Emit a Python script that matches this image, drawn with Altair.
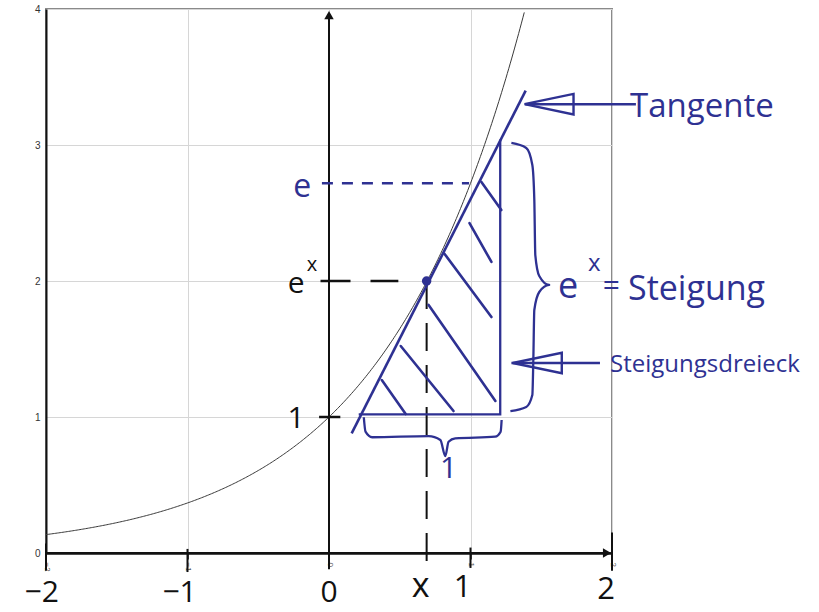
import altair as alt
import pandas as pd

BLUE = "#2e3192"
INK = "#111111"
FONT = "Open Sans"

# ---- axes -------------------------------------------------------------
x_domain = [-2, 2]
y_domain = [0, 4]
x_ticks = [-2, -1, 0, 1, 2]
y_ticks = [0, 1, 2, 3, 4]

# ---- exponential curve y = e^x ---------------------------------------
curve_start = -2.0
curve_stop = 1.39
curve_step = 0.01

# ---- point of contact (x, e^x) ---------------------------------------
point_x = [0.69]
point_y = [2.0]

# ---- tangent through the point ---------------------------------------
tangent_x = [0.16, 1.39]
tangent_y = [0.88, 3.40]

# ---- slope triangle (base, right side) -------------------------------
tri_x = [0.21, 1.21, 1.21]
tri_y = [1.02, 1.02, 3.04]

# hatching strokes inside the triangle
hatch_x1 = [0.373, 0.507, 0.704, 0.817, 0.993, 1.077]
hatch_y1 = [1.272, 1.522, 1.824, 2.199, 2.426, 2.728]
hatch_x2 = [0.542, 0.880, 1.176, 1.148, 1.148, 1.218]
hatch_y2 = [1.022, 1.044, 1.118, 1.735, 2.140, 2.522]

# ---- curly braces -----------------------------------------------------
brace_bottom_x = [0.246, 0.258, 0.305, 0.704, 0.787, 0.822, 0.845, 0.892, 1.174, 1.213, 1.220]
brace_bottom_y = [0.998, 0.892, 0.851, 0.860, 0.831, 0.713, 0.818, 0.843, 0.855, 0.892, 0.978]
brace_right_x = [1.289, 1.394, 1.437, 1.451, 1.458, 1.486, 1.556, 1.486, 1.451, 1.444, 1.437, 1.394, 1.282]
brace_right_y = [3.015, 2.978, 2.853, 2.596, 2.191, 2.037, 1.971, 1.919, 1.787, 1.419, 1.162, 1.074, 1.044]

# ---- guide lines ------------------------------------------------------
e_level = [2.718]
e_guide_x = [-0.05, 0.99]
ex_guide_x = [-0.06, 0.49]
ex_drop_y = [2.0, -0.14]

# hand-drawn ticks on the axes
xtick_pos = [-2.0, -1.0, 1.0, 2.0]
xtick_top = [0.07, 0.03, 0.04, 0.15]
xtick_bot = [-0.13, -0.14, -0.11, -0.13]
ytick_x1 = [-0.07]
ytick_x2 = [0.08]
ytick_y = [1.0]

# ---- arrows pointing at the tangent and the triangle ------------------
arrow_x1 = [1.387, 1.289]
arrow_x2 = [2.169, 1.915]
arrow_y = [3.30, 1.397]
arrow_head_x = [1.555, 1.472]

# ---- labels -----------------------------------------------------------
big_labels = ["\u22122", "\u22121", "0", "x", "1", "2", "1", "e"]
big_x = [-2.03, -1.056, 0.0, 0.648, 0.944, 1.958, -0.232, -0.232]
big_y = [-0.36, -0.36, -0.36, -0.325, -0.325, -0.34, 0.919, 1.912]
big_size = [30, 30, 30, 34, 31, 31, 30, 30]

sup_labels = ["x"]
sup_x = [-0.12]
sup_y = [2.07]

blue_labels = ["e", "1", "Tangente", "e", "=", "Steigung", "Steigungsdreieck"]
blue_x = [-0.19, 0.845, 2.127, 1.690, 1.995, 2.113, 1.986]
blue_y = [2.618, 0.55, 3.206, 1.875, 1.90, 1.86, 1.331]
blue_size = [32, 30, 33, 36, 30, 34, 24]
blue_align = ["center", "center", "left", "center", "center", "left", "left"]

blue_sup = ["x"]
blue_sup_x = [1.875]
blue_sup_y = [2.075]

xs = alt.Scale(domain=x_domain, nice=False, zero=False)
ys = alt.Scale(domain=y_domain, nice=False, zero=False)


def X(field, **kw):
    return alt.X(field, type="quantitative", scale=xs, title=None, **kw)


def Y(field, **kw):
    return alt.Y(field, type="quantitative", scale=ys, title=None, **kw)


# curve carries the frame axes and the grid
curve = (
    alt.Chart(alt.sequence(curve_start, curve_stop, curve_step, as_="x"))
    .transform_calculate(y="exp(datum.x)")
    .mark_line(color="#3a3a3a", strokeWidth=1)
    .encode(
        x=alt.X(
            "x:Q",
            scale=xs,
            axis=alt.Axis(
                values=x_ticks, format="d", title=None, grid=True, gridColor="#d6d6d6",
                domainColor=INK, domainWidth=2.5, tickColor="#444", tickSize=6,
                labelAngle=90, labelFontSize=8, labelColor="#555", labelPadding=3,
            ),
        ),
        y=alt.Y(
            "y:Q",
            scale=ys,
            axis=alt.Axis(
                values=y_ticks, format="d", title=None, grid=True, gridColor="#d6d6d6",
                domainColor=INK, domainWidth=2, ticks=False,
                labelFontSize=10, labelColor="#333", labelPadding=6,
            ),
        ),
    )
)

# central coordinate axes with arrow tips
axis_df = pd.DataFrame({"x1": [0.0, -2.0], "x2": [0.0, 1.97], "y1": [-0.12, 0.0], "y2": [3.96, 0.0]})
axes = alt.Chart(axis_df).mark_rule(color=INK, strokeWidth=2).encode(
    x=X("x1"), x2="x2", y=Y("y1"), y2="y2"
)
tips_df = pd.DataFrame({"x": [0.0, 1.965], "y": [3.955, 0.0], "s": ["triangle-up", "triangle-right"]})
tips = alt.Chart(tips_df).mark_point(filled=True, color=INK, size=90, opacity=1).encode(
    x=X("x"), y=Y("y"), shape=alt.Shape("s:N", scale=None)
)

# hand ticks
xt_df = pd.DataFrame({"x": xtick_pos, "y1": xtick_top, "y2": xtick_bot})
xt = alt.Chart(xt_df).mark_rule(color=INK, strokeWidth=2).encode(x=X("x"), y=Y("y1"), y2="y2")
yt_df = pd.DataFrame({"x1": ytick_x1, "x2": ytick_x2, "y": ytick_y})
yt = alt.Chart(yt_df).mark_rule(color=INK, strokeWidth=2.5).encode(x=X("x1"), x2="x2", y=Y("y"))

# dashed guides
ex_h = alt.Chart(pd.DataFrame({"x1": [ex_guide_x[0]], "x2": [ex_guide_x[1]], "y": point_y})).mark_rule(
    color=INK, strokeWidth=2.5, strokeDash=[30, 20]
).encode(x=X("x1"), x2="x2", y=Y("y"))
ex_v = alt.Chart(pd.DataFrame({"x": point_x, "y1": [ex_drop_y[0]], "y2": [ex_drop_y[1]]})).mark_rule(
    color=INK, strokeWidth=2, strokeDash=[28, 14]
).encode(x=X("x"), y=Y("y1"), y2="y2")
e_h = alt.Chart(pd.DataFrame({"x1": [e_guide_x[0]], "x2": [e_guide_x[1]], "y": e_level})).mark_rule(
    color=BLUE, strokeWidth=2.5, strokeDash=[11, 9]
).encode(x=X("x1"), x2="x2", y=Y("y"))

# tangent
tangent = alt.Chart(pd.DataFrame({"x": tangent_x, "y": tangent_y})).mark_line(
    color=BLUE, strokeWidth=2.6
).encode(x=X("x"), y=Y("y"))

# triangle legs
tri = alt.Chart(pd.DataFrame({"x": tri_x, "y": tri_y, "i": range(len(tri_x))})).mark_line(
    color=BLUE, strokeWidth=2.3
).encode(x=X("x"), y=Y("y"), order="i:Q")

hatch = alt.Chart(
    pd.DataFrame({"x1": hatch_x1, "y1": hatch_y1, "x2": hatch_x2, "y2": hatch_y2})
).mark_rule(color=BLUE, strokeWidth=2.6, strokeCap="round").encode(
    x=X("x1"), y=Y("y1"), x2="x2", y2="y2"
)

# braces
brace_df = pd.concat(
    [
        pd.DataFrame({"x": brace_bottom_x, "y": brace_bottom_y, "b": "bottom", "i": range(len(brace_bottom_x))}),
        pd.DataFrame({"x": brace_right_x, "y": brace_right_y, "b": "right", "i": range(len(brace_right_x))}),
    ]
)
braces = alt.Chart(brace_df).mark_line(
    color=BLUE, strokeWidth=2.3, interpolate="monotone", strokeJoin="round"
).encode(x=X("x"), y=Y("y"), detail="b:N", order="i:Q")

# contact point
point = alt.Chart(pd.DataFrame({"x": point_x, "y": point_y})).mark_point(
    filled=True, color=BLUE, size=90, opacity=1
).encode(x=X("x"), y=Y("y"))

# arrows
arrows = alt.Chart(pd.DataFrame({"x1": arrow_x1, "x2": arrow_x2, "y": arrow_y})).mark_rule(
    color=BLUE, strokeWidth=2.4
).encode(x=X("x1"), x2="x2", y=Y("y"))
heads = alt.Chart(pd.DataFrame({"x": arrow_head_x, "y": arrow_y})).mark_point(
    shape="M-1,0L1,-0.42L1,0.42Z", size=2400, filled=False, color=BLUE, strokeWidth=2.4, opacity=1
).encode(x=X("x"), y=Y("y"))

# black handwritten labels
big = alt.Chart(pd.DataFrame({"t": big_labels, "x": big_x, "y": big_y, "s": big_size})).mark_text(
    font=FONT, color=INK, baseline="alphabetic", align="center"
).encode(x=X("x"), y=Y("y"), text="t:N", size=alt.Size("s:Q", scale=None))
sup = alt.Chart(pd.DataFrame({"t": sup_labels, "x": sup_x, "y": sup_y})).mark_text(
    font=FONT, color=INK, baseline="alphabetic", align="center", fontSize=20
).encode(x=X("x"), y=Y("y"), text="t:N")

# blue handwritten labels
blue_df = pd.DataFrame(
    {"t": blue_labels, "x": blue_x, "y": blue_y, "s": blue_size, "a": blue_align}
)
blue_left = alt.Chart(blue_df[blue_df.a == "left"]).mark_text(
    font=FONT, color=BLUE, baseline="alphabetic", align="left"
).encode(x=X("x"), y=Y("y"), text="t:N", size=alt.Size("s:Q", scale=None))
blue_center = alt.Chart(blue_df[blue_df.a == "center"]).mark_text(
    font=FONT, color=BLUE, baseline="alphabetic", align="center"
).encode(x=X("x"), y=Y("y"), text="t:N", size=alt.Size("s:Q", scale=None))
blue_sup_layer = alt.Chart(pd.DataFrame({"t": blue_sup, "x": blue_sup_x, "y": blue_sup_y})).mark_text(
    font=FONT, color=BLUE, baseline="alphabetic", align="center", fontSize=24
).encode(x=X("x"), y=Y("y"), text="t:N")

chart = (
    alt.layer(
        curve, axes, tips, xt, yt, ex_h, ex_v, e_h, tangent, tri, hatch, braces,
        point, arrows, heads, big, sup, blue_left, blue_center, blue_sup_layer,
    )
    .properties(
        width=566,
        height=544,
        autosize="none",
        padding={"left": 46, "top": 9, "right": 207, "bottom": 59},
        background="white",
    )
    .configure_view(stroke="#8a8a8a", strokeWidth=2)
)

chart.save("out.html", embed_options={"renderer": "svg", "actions": False})
